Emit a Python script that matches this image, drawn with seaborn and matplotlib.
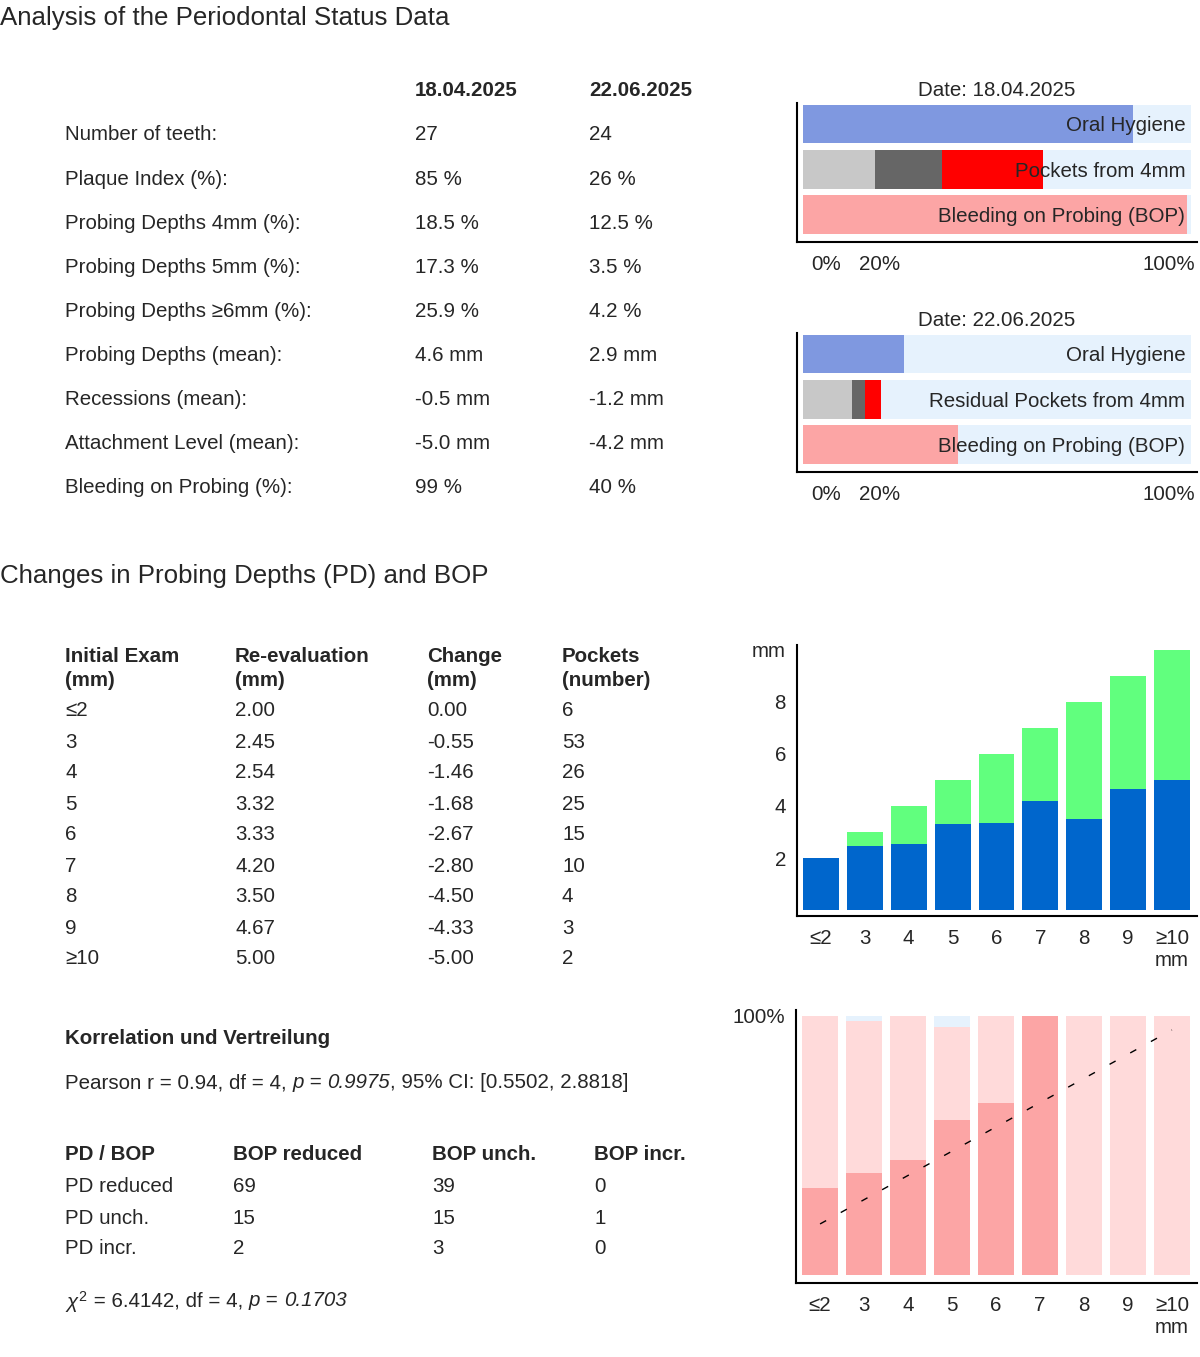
import matplotlib
matplotlib.use("Agg")
import matplotlib.pyplot as plt
import matplotlib.transforms as mtransforms
import seaborn as sns
import numpy as np
import pandas as pd

sns.set_style("white")
plt.rcParams['font.family'] = ['Liberation Sans', 'DejaVu Sans']
plt.rcParams['mathtext.fontset'] = 'custom'
plt.rcParams['mathtext.rm'] = 'Liberation Sans'
plt.rcParams['mathtext.it'] = 'Liberation Sans:italic'
plt.rcParams['mathtext.bf'] = 'Liberation Sans:bold'

# ---------------- data ----------------
dates = ["18.04.2025", "22.06.2025"]
status_labels = ["Number of teeth:", "Plaque Index (%):", "Probing Depths 4mm (%):",
                 "Probing Depths 5mm (%):", "Probing Depths \u22656mm (%):",
                 "Probing Depths (mean):", "Recessions (mean):",
                 "Attachment Level (mean):", "Bleeding on Probing (%):"]
status_d1 = ["27", "85 %", "18.5 %", "17.3 %", "25.9 %", "4.6 mm", "-0.5 mm", "-5.0 mm", "99 %"]
status_d2 = ["24", "26 %", "12.5 %", "3.5 %", "4.2 %", "2.9 mm", "-1.2 mm", "-4.2 mm", "40 %"]

plaque = [85, 26]
pd4 = [18.5, 12.5]
pd5 = [17.3, 3.5]
pd6 = [25.9, 4.2]
bop = [99, 40]
row_names_1 = ["Oral Hygiene", "Pockets from 4mm", "Bleeding on Probing (BOP)"]
row_names_2 = ["Oral Hygiene", "Residual Pockets from 4mm", "Bleeding on Probing (BOP)"]

pd_cats = ["\u22642", "3", "4", "5", "6", "7", "8", "9", "\u226510"]
initial_mm = [2, 3, 4, 5, 6, 7, 8, 9, 10]
reeval_mm = [2.00, 2.45, 2.54, 3.32, 3.33, 4.20, 3.50, 4.67, 5.00]
change_mm = [0.00, -0.55, -1.46, -1.68, -2.67, -2.80, -4.50, -4.33, -5.00]
pockets_n = [6, 53, 26, 25, 15, 10, 4, 3, 2]

bop_light = [100, 98, 100, 95.8, 100, 100, 100, 100, 100]
bop_dark = [33.6, 39.4, 44.4, 59.8, 66.4, 100, 0, 0, 0]
trend_x = [0, 8]
trend_y = [19.7, 94.6]

pdbop_rows = ["PD reduced", "PD unch.", "PD incr."]
pdbop_cols = ["PD / BOP", "BOP reduced", "BOP unch.", "BOP incr."]
bop_reduced = [69, 15, 2]
bop_unch = [39, 15, 3]
bop_incr = [0, 1, 0]

# ---------------- colors ----------------
C_BG = "#e6f2fd"
C_OH = "#7f98e0"
C_LG = "#c8c8c8"
C_DG = "#666666"
C_RED = "#ff0000"
C_BOP = "#fca5a5"
C_LP = "#ffdada"
C_GREEN = "#61ff7e"
C_BLUE = "#0066cc"

W, H = 1200, 1357
fig = plt.figure(figsize=(W / 100, H / 100), dpi=100)
renderer = fig.canvas.get_renderer()


def P(x, y):
    return x / W, 1 - y / H


def rect(l, t, r, b):
    return [l / W, 1 - b / H, (r - l) / W, (b - t) / H]


FS = 14.8
FS_T = 18.6
VA = "center_baseline"


def ftext(x, y, s, **kw):
    kw.setdefault("fontsize", FS)
    kw.setdefault("va", VA)
    return fig.text(*P(x, y), s, **kw)


def rich(x, y, segs):
    cur = x
    for s, st in segs:
        t = ftext(cur, y, s, style=st)
        cur += t.get_window_extent(renderer).width


# ---------------- texts left ----------------
ftext(0, 16, "Analysis of the Periodontal Status Data", fontsize=FS_T)
ftext(415, 89, dates[0], fontweight="bold")
ftext(589, 89, dates[1], fontweight="bold")
for i, (lab, a, b) in enumerate(zip(status_labels, status_d1, status_d2)):
    y = 133 + i * 44.1
    ftext(65, y, lab)
    ftext(415, y, a)
    ftext(589, y, b)

ftext(0, 573, "Changes in Probing Depths (PD) and BOP", fontsize=FS_T)
hdr1 = ["Initial Exam", "Re-evaluation", "Change", "Pockets"]
hdr2 = ["(mm)", "(mm)", "(mm)", "(number)"]
hx = [65, 235, 427, 562]
for x, h1, h2 in zip(hx, hdr1, hdr2):
    ftext(x, 655, h1, fontweight="bold")
    ftext(x, 678, h2, fontweight="bold")
for i in range(len(pd_cats)):
    y = 709 + i * 31
    ftext(hx[0], y, pd_cats[i])
    ftext(hx[1], y, f"{reeval_mm[i]:.2f}")
    ftext(hx[2], y, f"{change_mm[i]:.2f}")
    ftext(hx[3], y, f"{pockets_n[i]}")

ftext(65, 1037, "Korrelation und Vertreilung", fontweight="bold")
rich(65, 1081, [("Pearson r = 0.94, df = 4, ", "normal"), ("p", "italic"),
                (" = ", "normal"), ("0.9975", "italic"),
                (", 95% CI: [0.5502, 2.8818]", "normal")])

cx = [65, 233, 432, 594]
for x, h in zip(cx, pdbop_cols):
    ftext(x, 1153, h, fontweight="bold")
for i, r in enumerate(pdbop_rows):
    y = 1185 + i * 31
    ftext(cx[0], y, r)
    ftext(cx[1], y, str(bop_reduced[i]))
    ftext(cx[2], y, str(bop_unch[i]))
    ftext(cx[3], y, str(bop_incr[i]))

rich(65, 1299, [(r"$\chi^2$", "normal"), (" = 6.4142, df = 4, ", "normal"),
                ("p", "italic"), (" = ", "normal"), ("0.1703", "italic")])


# ---------------- horizontal status charts ----------------
def status_chart(k, top, bottom, names, title):
    ax = fig.add_axes(rect(797, top, 1197, bottom))
    layers = [
        ([100, 100, 100], [C_BG, C_BG, C_BG]),
        ([plaque[k], pd4[k] + pd5[k] + pd6[k], bop[k]], [C_OH, C_RED, C_BOP]),
        ([0, pd4[k] + pd5[k], 0], [C_DG, C_DG, C_DG]),
        ([0, pd4[k], 0], [C_LG, C_LG, C_LG]),
    ]
    for vals, cols in layers:
        d = pd.DataFrame({"v": vals, "row": names})
        sns.barplot(data=d, x="v", y="row", hue="row", palette=cols, order=names,
                    hue_order=names, orient="h", errorbar=None, width=0.85,
                    saturation=1, linewidth=0, legend=False, ax=ax)
    ax.set_xlim(-1.55, 101.5)
    ax.set_ylim(2.6, -0.46)
    for i, n in enumerate(names):
        ax.text(98.5, i, n, ha="right", va=VA, fontsize=FS)
    ax.set_xticks([])
    ax.set_yticks([])
    ax.set_xlabel("")
    ax.set_ylabel("")
    for s in ["top", "right"]:
        ax.spines[s].set_visible(False)
    for s in ["left", "bottom"]:
        ax.spines[s].set_color("black")
        ax.spines[s].set_linewidth(1.5)
    trans = mtransforms.blended_transform_factory(ax.transData, fig.transFigure)
    for xv, lab, ha in [(5.9, "0%", "center"), (19.6, "20%", "center"), (101, "100%", "right")]:
        ax.text(xv, 1 - (bottom + 20) / H, lab, ha=ha, va=VA, fontsize=FS, transform=trans)
    ftext(997, top - 15, title, ha="center")
    return ax


status_chart(0, 103, 242, row_names_1, "Date: " + dates[0])
status_chart(1, 333, 472, row_names_2, "Date: " + dates[1])


# ---------------- PD bar chart ----------------
def style_cat_axis(ax):
    for s in ["top", "right"]:
        ax.spines[s].set_visible(False)
    for s in ["left", "bottom"]:
        ax.spines[s].set_color("black")
        ax.spines[s].set_linewidth(1.5)
    ax.set_xlabel("")
    ax.set_ylabel("")
    ax.tick_params(length=0, labelsize=FS)
    ax.tick_params(axis="x", pad=9.5)
    ax.tick_params(axis="y", pad=8)
    labs = pd_cats[:-1] + [pd_cats[-1] + "\nmm"]
    ax.set_xticks(range(len(pd_cats)))
    ax.set_xticklabels(labs, linespacing=1.2, va="top")
    ax.set_xlim(-0.547, 8.57)


ax3 = fig.add_axes(rect(797, 645, 1197, 916))
sns.barplot(x=pd_cats, y=initial_mm, order=pd_cats, color=C_GREEN, saturation=1,
            errorbar=None, width=0.82, linewidth=0, ax=ax3)
sns.barplot(x=pd_cats, y=reeval_mm, order=pd_cats, color=C_BLUE, saturation=1,
            errorbar=None, width=0.82, linewidth=0, ax=ax3)
style_cat_axis(ax3)
ax3.set_ylim(-0.23, 10.19)
ax3.set_yticks([2, 4, 6, 8, 10])
ax3.set_yticklabels(["2", "4", "6", "8", "mm"])

# ---------------- BOP chart ----------------
ax4 = fig.add_axes(rect(796, 1010, 1197, 1283))
sns.barplot(x=pd_cats, y=[100] * len(pd_cats), order=pd_cats, color=C_BG, saturation=1,
            errorbar=None, width=0.82, linewidth=0, ax=ax4)
sns.barplot(x=pd_cats, y=bop_light, order=pd_cats, color=C_LP, saturation=1,
            errorbar=None, width=0.82, linewidth=0, ax=ax4)
sns.barplot(x=pd_cats, y=bop_dark, order=pd_cats, color=C_BOP, saturation=1,
            errorbar=None, width=0.82, linewidth=0, ax=ax4)
sns.lineplot(x=trend_x, y=trend_y, color="black", linewidth=1, ax=ax4,
             dashes=False, linestyle=(0, (5, 12)))
style_cat_axis(ax4)
ax4.set_ylim(-3.1, 102.3)
ax4.set_yticks([100])
ax4.set_yticklabels(["100%"])

fig.savefig("out.png", dpi=100)
